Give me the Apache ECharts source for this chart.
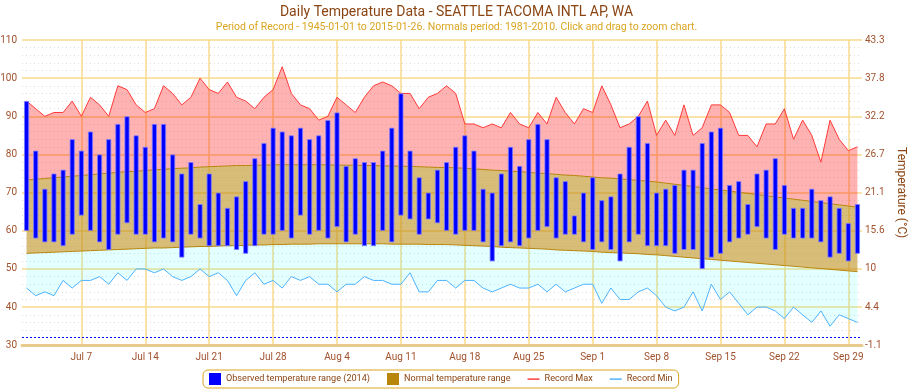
<!DOCTYPE html>
<html><head><meta charset="utf-8">
<script src="https://cdn.jsdelivr.net/npm/echarts@6/dist/echarts.min.js"></script>
<style>html,body{margin:0;padding:0;background:#fff}#c{width:913px;height:392px}</style>
</head><body><div id="c"></div>
<script>
// ---- categories (Jul 1 .. Sep 30, 2014) ----
const months = [['Jul', 31], ['Aug', 31], ['Sep', 30]];
const categories = [];
months.forEach(([m, n]) => { for (let d = 1; d <= n; d++) categories.push(m + ' ' + d); });

const xTickLabels = ['Jul 7','Jul 14','Jul 21','Jul 28','Aug 4','Aug 11','Aug 18','Aug 25','Sep 1','Sep 8','Sep 15','Sep 22','Sep 29'];
const leftTickValues = [30, 40, 50, 60, 70, 80, 90, 100, 110];
const rightTickLabels = ['-1.1', '4.4', '10', '15.6', '21.1', '26.7', '32.2', '37.8', '43.3'];

// ---- observed 2014 (°F) ----
const obsHigh = [94,81,71,75,76,84,81,86,80,84, 88,90,85,82,88,88,80,75,78,67, 75,70,66,69,73,79,83,87,86,85,
  87,84,85,89,91,77,79,78,78,81, 87,96,81,74,70,76,78,82,85,81, 71,70,75,82,77,84,88,84,74,73,
  64,70,74,68,69,75,82,90,83,70, 71,72,76,76,83,86,87,72,73,67, 75,76,79,72,66,66,71,68,69,66, 62,67];
const obsLow = [60,58,57,57,56,59,64,60,57,55, 59,62,59,59,57,58,57,53,59,58, 56,56,56,55,54,56,59,59,60,58,
  64,59,60,58,61,57,59,56,56,60, 57,64,63,59,63,62,60,59,60,60, 57,52,56,57,56,58,60,61,58,59,
  59,57,55,57,55,52,57,59,56,56, 56,54,55,55,50,53,54,57,58,59, 61,58,55,59,58,58,58,57,53,54, 52,54];

// ---- records (°F) ----
const recordMax = [94,92,90,91,91,94,90,95,93,90, 98,97,93,91,92,98,96,93,95,100, 97,96,99,95,94,92,95,97,103,96,
  93,92,89,90,95,93,91,95,98,99, 98,96,96,92,95,96,98,96,88,88, 87,88,87,91,88,87,91,88,95,91,
  88,92,91,98,93,87,88,90,94,85, 89,85,93,85,87,93,93,91,85,85, 82,88,88,92,84,89,85,78,89,84, 81,82];
const recordMin = [45,43,44,43,47,45,47,47,48,46, 49,47,50,50,49,50,48,47,48,50, 48,49,47,43,47,49,46,47,45,48,
  47,48,46,46,44,46,46,48,47,47, 46,46,49,44,44,47,47,45,47,47, 45,44,45,46,45,45,46,44,46,44,
  45,46,46,41,45,42,42,44,45,43, 40,39,40,44,39,46,42,44,41,38, 40,40,39,37,40,38,36,39,35,38, 37,36];

// ---- normals (°F) ----
const normalMax = [73.3,73.5,73.7,73.9,74.1,74.3,74.5,74.7,74.9,75.1, 75.3,75.5,75.6,75.8,76.0,76.1,76.3,76.4,76.5,76.7,
  76.8,76.9,77.0,77.1,77.1,77.2, 77.2,77.3,77.3,77.3,77.3,77.3,77.3,77.3,77.2,77.2,77.2,77.1,77.1,77.0,77.0,
  76.9,76.9,76.8,76.7,76.6,76.6,76.5,76.4,
  76.2,76.1,75.9,75.8,75.6,75.5,75.3,75.1,75.0,74.8,74.6,74.5,74.3,74.1,73.9,73.8,73.6,73.4,73.2,73.0,72.8,
  72.5,72.2,71.9,71.6,71.3,71.0,70.7,70.4,70.1,69.8,69.5,69.2,68.9,68.6,68.3,68.0,67.7,67.4,67.1,66.8,66.5,66.2];
const normalMin = [54.1,54.2,54.3,54.4,54.5,54.6,54.7,54.8,54.9,55.0, 55.1,55.2,55.3,55.4,55.5,55.5,55.6,55.7,55.8,55.9,
  55.9,56.0,56.1,56.1,56.2,56.3,
  56.3,56.4,56.4,56.5,56.5,56.5,56.6,56.6,56.6,56.6,56.6,56.6,56.6,56.6,56.5,56.5,56.5,56.5,56.4,56.4,56.4,
  56.3,56.2,56.1,56.0,55.9,55.7,55.6,55.5,55.4,55.3,55.2,55.0,54.9,54.8,54.7,54.6,54.4,54.3,54.2,54.1,54.0,53.8,53.7,53.5,
  53.3,53.1,52.9,52.7,52.5,52.3,52.1,51.9,51.7,51.5,51.3,51.1,50.9,50.7,50.5,50.3,50.1,49.9,49.7,49.5,49.3];

const FREEZING = 32;

const F = 'Roboto, "Liberation Sans", sans-serif';
const diff = (a, b) => a.map((v, i) => +(v - b[i]).toFixed(1));
const showTick = (i, v) => xTickLabels.indexOf(v) >= 0;

const chart = echarts.init(document.getElementById('c'), null, { renderer: 'canvas' });
chart.setOption({
  animation: false,
  backgroundColor: '#ffffff',
  textStyle: { fontFamily: F },
  title: [
    { text: 'Daily Temperature Data - SEATTLE TACOMA INTL AP, WA', left: 'center', top: 5, padding: 0,
      textStyle: { fontSize: 14, fontWeight: 'normal', color: '#8b4513', fontFamily: F } },
    { text: 'Period of Record - 1945-01-01 to 2015-01-26. Normals period: 1981-2010. Click and drag to zoom chart.',
      left: 'center', top: 21.5, padding: 0,
      textStyle: { fontSize: 10.5, fontWeight: 'normal', color: '#daa520', fontFamily: F } }
  ],
  legend: {
    left: 203, top: 370, padding: [3, 6], itemGap: 17, itemWidth: 12, itemHeight: 12, itemTextGap: 4,
    borderColor: '#daa520', borderWidth: 1, borderRadius: 5,
    textStyle: { fontSize: 9.1, color: '#8b4513', fontFamily: F },
    data: [
      { name: 'Observed temperature range (2014)', icon: 'rect', itemStyle: { color: '#0000ff', borderWidth: 0 } },
      { name: 'Normal temperature range', icon: 'rect', itemStyle: { color: '#b8860b', borderWidth: 0, opacity: 1 } },
      { name: 'Record Max', icon: 'path://M0,0M12,12M0,5.4h12v1.4h-12z', itemStyle: { color: '#ff3333', borderWidth: 0, opacity: 1 } },
      { name: 'Record Min', icon: 'path://M0,0M12,12M0,5.4h12v1.4h-12z', itemStyle: { color: '#44b0ff', borderWidth: 0, opacity: 1 } }
    ]
  },
  grid: { left: 22, right: 51, top: 40, bottom: 46.7, containLabel: false, outerBoundsMode: 'none' },
  xAxis: {
    type: 'category', data: categories, boundaryGap: true,
    axisLine: { show: true, lineStyle: { color: '#e8cb8c', width: 3 } },
    axisTick: { show: false },
    axisLabel: { interval: showTick, color: '#a0522d', fontSize: 10, margin: 7, fontFamily: F },
    splitLine: { show: true, interval: showTick, alignWithLabel: true, lineStyle: { color: '#f9da8c', width: 1.5 } }
  },
  yAxis: [
    { type: 'value', min: leftTickValues[0], max: leftTickValues[leftTickValues.length - 1], interval: 10, position: 'left',
      axisLine: { show: false }, axisTick: { show: false },
      axisLabel: { color: '#a0522d', fontSize: 10, margin: 5, fontFamily: F },
      splitLine: { show: true, lineStyle: { color: '#f9da8c', width: 1.5 } },
      minorTick: { show: false, splitNumber: 5 },
      minorSplitLine: { show: true, lineStyle: { color: '#dddddd', type: [1, 3], width: 1 } } },
    { type: 'value', min: leftTickValues[0], max: leftTickValues[leftTickValues.length - 1], interval: 10, position: 'right',
      name: 'Temperature (°C)', nameLocation: 'middle', nameRotate: -90, nameGap: 27,
      nameTextStyle: { color: '#8b4513', fontSize: 12, fontFamily: F },
      axisLine: { show: false }, axisTick: { show: false }, splitLine: { show: false },
      axisLabel: { color: '#a0522d', fontSize: 10, margin: 3, fontFamily: F,
        formatter: v => rightTickLabels[leftTickValues.indexOf(Math.round(v))] } }
  ],
  series: [
    { name: 'Record Min', type: 'line', stack: 'env', data: recordMin, symbol: 'none', z: 2,
      lineStyle: { color: '#4db3ff', width: 1 }, itemStyle: { color: '#4db3ff' } },
    { name: 'normalLowFill', type: 'line', stack: 'env', data: diff(normalMin, recordMin), symbol: 'none', z: 2,
      lineStyle: { color: '#b8860b', width: 1 }, areaStyle: { color: 'rgba(0,255,255,0.11)', opacity: 1 } },
    { name: 'Normal temperature range', type: 'line', stack: 'env', data: diff(normalMax, normalMin), symbol: 'none', z: 2,
      lineStyle: { color: '#b8860b', width: 1 }, itemStyle: { color: '#b8860b' },
      areaStyle: { color: 'rgba(184,134,11,0.55)', opacity: 1 } },
    { name: 'Record Max', type: 'line', stack: 'env', data: diff(recordMax, normalMax), symbol: 'none', z: 2,
      lineStyle: { color: '#ff3b3b', width: 1 }, itemStyle: { color: '#ff3333' },
      areaStyle: { color: 'rgba(255,0,0,0.3)', opacity: 1 } },
    { name: 'obsBase', type: 'bar', stack: 'obs', data: obsLow, barWidth: 5, silent: true, z: 6,
      itemStyle: { color: 'rgba(0,0,0,0)' },
      markLine: { silent: true, symbol: 'none', label: { show: false },
        itemStyle: { color: '#0000ff' },
        lineStyle: { color: '#0000ff', type: [2, 2], width: 1, opacity: 1 },
        data: [{ yAxis: FREEZING, lineStyle: { color: '#0000ff' } }] } },
    { name: 'Observed temperature range (2014)', type: 'bar', stack: 'obs', data: diff(obsHigh, obsLow), barWidth: 5, z: 6,
      itemStyle: { color: '#0000ff', borderColor: '#7b7bff', borderWidth: 0.8 } }
  ]
});
</script>
</body></html>
